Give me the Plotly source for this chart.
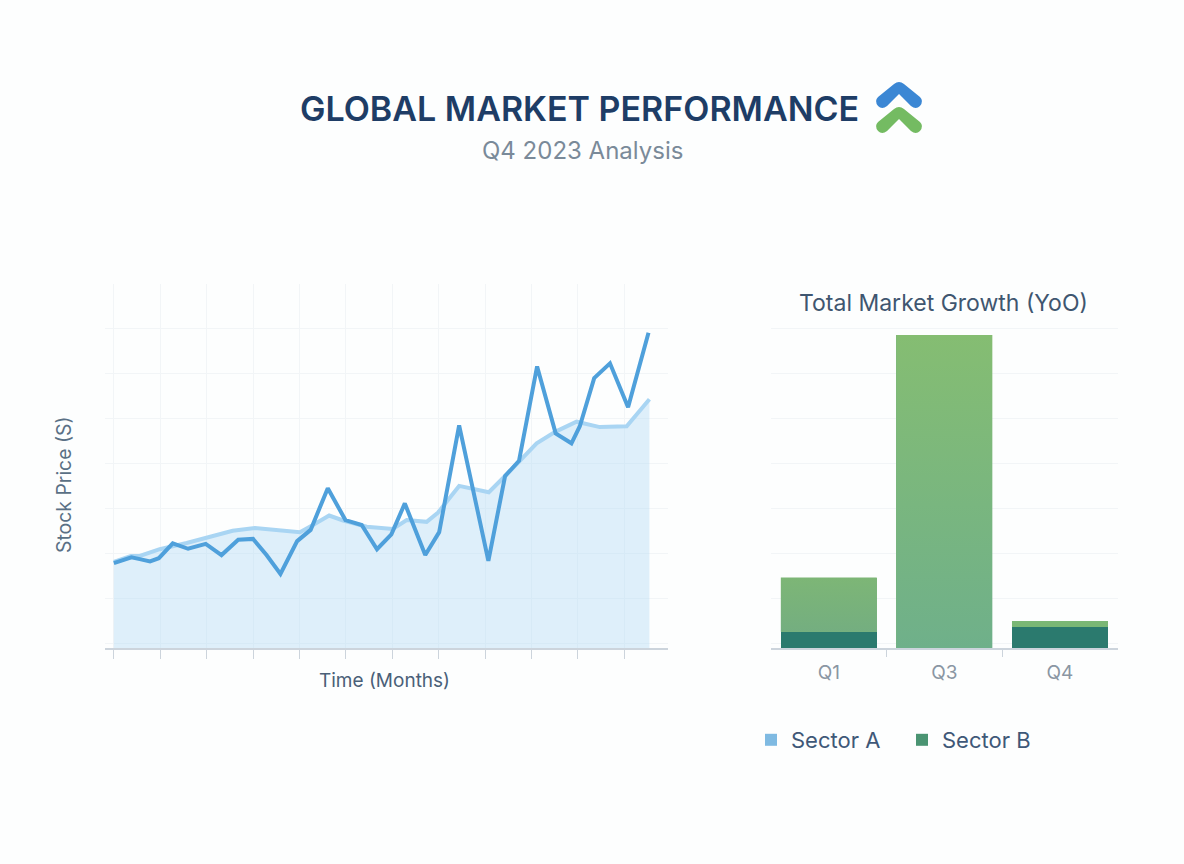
import plotly.graph_objects as go

# months since start / stock price
price_x = [0.00, 0.38, 0.56, 0.78, 0.97, 1.27, 1.60, 1.98, 2.32, 2.68, 3.00, 3.29, 3.59, 3.95, 4.24, 4.61, 4.99, 5.34,
           5.67, 5.98, 6.27, 6.71, 7.01, 7.44, 8.07, 8.43, 8.73, 9.12, 9.52, 9.86, 10.04, 10.35, 10.69, 11.08, 11.52]
price_y = [18.9, 20.2, 19.8, 19.3, 20.0, 23.3, 22.1, 23.2, 20.7, 24.1, 24.3, 20.7, 16.5, 23.8, 26.3, 35.6, 28.5, 27.4,
           22.0, 25.3, 32.2, 20.7, 25.8, 49.6, 19.4, 38.3, 41.7, 62.7, 47.8, 45.6, 49.4, 60.1, 63.4, 53.6, 70.2]
trend_x = [0.00, 0.37, 0.56, 0.99, 1.57, 2.00, 2.56, 3.04, 3.51, 4.01, 4.29, 4.64, 4.94, 5.45, 6.01, 6.31, 6.74, 6.98,
           7.44, 8.08, 8.43, 8.73, 9.11, 9.52, 9.97, 10.47, 11.05, 11.54]
trend_y = [19.2, 20.5, 20.5, 22.0, 23.4, 24.5, 26.1, 26.7, 26.3, 25.8, 27.4, 29.5, 28.4, 27.0, 26.5, 28.5, 28.1, 30.1,
           36.1, 34.7, 38.3, 41.5, 45.6, 48.2, 50.4, 49.2, 49.4, 55.4]
month_ticks = [0, 1, 2, 3, 4, 5, 6, 7, 8, 9, 10, 11]
grid_levels = [1.1, 11.1, 21.1, 31.1, 41.1, 51.1, 61.1, 71.1, 81.0]

quarters = ["Q1", "Q3", "Q4"]
sector_b = [3.6, 0, 4.7]
sector_a = [12.1, 69.7, 1.3]

W, H = 1184, 864
BG = "#fdfefe"
GRID = "#f2f5f7"
AXIS = "#ccd4dc"
# colour at the foot and at the top of the light part of each bar
BAR_FOOT = ["#74ae80", "#6fb08a", "#7ab775"]
BAR_TOP = ["#7db676", "#85bd72", "#7ab775"]


def px(x):
    return x / W


def py(y):
    return 1 - y / H


def chevron(t, color):
    # little arrow next to the title, pixel positions converted to paper
    def p(a, b):
        return f"{px(a):.4f},{py(t + b):.4f}"

    path = (f"M {p(894, 2)} Q {p(899, -2)} {p(904, 2)} L {p(920, 15)} Q {p(924, 19)} {p(920, 24)} "
            f"Q {p(916, 28)} {p(911, 24)} L {p(899, 12)} L {p(887, 24)} Q {p(882, 28)} {p(878, 24)} "
            f"Q {p(874, 19)} {p(878, 15)} Z")
    return dict(type="path", xref="paper", yref="paper", path=path, fillcolor=color, line=dict(width=0))


def label(text, x, y, size, color, angle=0, weight=None):
    return dict(text=text, xref="paper", yref="paper", x=px(x), y=py(y), xanchor="center", yanchor="middle",
                showarrow=False, textangle=angle, font=dict(size=size, color=color, weight=weight))


fig = go.Figure()

fig.add_trace(go.Scatter(x=trend_x, y=trend_y, mode="lines", fill="tozeroy", fillcolor="rgba(172,217,245,0.39)",
                         line=dict(color="#a9d5f3", width=4), showlegend=False))
fig.add_trace(go.Scatter(x=price_x, y=price_y, mode="lines", line=dict(color="#4fa0db", width=4), showlegend=False))

fig.add_trace(go.Bar(x=[0, 1, 2], y=sector_b, marker=dict(color="#2b7a6e", line=dict(width=0)), width=0.83,
                     xaxis="x2", yaxis="y2", showlegend=False))
fig.add_trace(go.Bar(x=[0, 1, 2], y=sector_a, marker=dict(color="#7ab67d", line=dict(width=0)), width=0.83,
                     xaxis="x2", yaxis="y2", showlegend=False))

# bars have no gradient option, so lay a gradient fill over the light part
for i in range(len(quarters)):
    low, high = sector_b[i], sector_b[i] + sector_a[i]
    fig.add_trace(go.Scatter(x=[i - 0.415, i + 0.415, i + 0.415, i - 0.415, i - 0.415], y=[low, low, high, high, low],
                             mode="none", fill="toself",
                             fillgradient=dict(type="vertical", colorscale=[[0, BAR_FOOT[i]], [1, BAR_TOP[i]]]),
                             xaxis="x2", yaxis="y2", showlegend=False, hoverinfo="skip"))

fig.add_trace(go.Scatter(x=[None], y=[None], mode="markers", name="Sector A", xaxis="x2", yaxis="y2",
                         marker=dict(symbol="square", size=12, color="#7fbae2")))
fig.add_trace(go.Scatter(x=[None], y=[None], mode="markers", name="Sector B", xaxis="x2", yaxis="y2",
                         marker=dict(symbol="square", size=12, color="#4a9472")))

fig.update_layout(
    width=W, height=H, margin=dict(l=0, r=0, t=0, b=0), paper_bgcolor=BG, plot_bgcolor=BG,
    font=dict(family="Inter", color="#4a6078"), barmode="stack",
    xaxis=dict(domain=[px(105), px(668)], range=[-0.19, 11.94], tickmode="array", tickvals=month_ticks,
               showticklabels=False, ticks="outside", ticklen=9, tickcolor=AXIS, showgrid=True, gridcolor=GRID,
               showline=True, linecolor=AXIS, linewidth=1.5, zeroline=False),
    yaxis=dict(domain=[py(648), py(284)], range=[0, 81.07], tickmode="array", tickvals=grid_levels,
               showticklabels=False, showgrid=True, gridcolor=GRID, zeroline=False),
    xaxis2=dict(domain=[px(771), px(1117.75)], range=[-0.5, 2.5], anchor="y2", tickmode="array", tickvals=[0, 1, 2],
                ticktext=quarters, tickfont=dict(size=19, color="#8a96a3"), ticklen=0, ticklabelstandoff=6,
                showgrid=False, showline=True, linecolor=AXIS, linewidth=1.5, zeroline=False,
                minor=dict(tickmode="array", tickvals=[0.5, 1.5], ticks="outside", ticklen=7, tickcolor=AXIS,
                           showgrid=False)),
    yaxis2=dict(domain=[py(648), py(327)], range=[0, 71.5], anchor="x2", tickmode="array", tickvals=grid_levels[:8],
                showticklabels=False, showgrid=True, gridcolor=GRID, zeroline=False),
    legend=dict(orientation="h", traceorder="normal", x=px(751), y=py(740), xanchor="left", yanchor="middle",
                font=dict(size=22, color="#3f5878"), itemwidth=30, entrywidth=106, bgcolor="rgba(0,0,0,0)"),
    annotations=[
        label("GLOBAL MARKET PERFORMANCE", 579, 108, 34, "#1e3d66", weight=600),
        label("Q4 2023 Analysis", 582, 150, 24, "#7a8a99"),
        label("Total Market Growth (YoO)", 943, 303, 23, "#3f5670"),
        label("Time (Months)", 384, 680, 19, "#4a6078"),
        label("Stock Price (S)", 64, 485, 19.4, "#5a7085", angle=-90),
    ],
    shapes=[chevron(82, "#3b87d4"), chevron(107, "#74bb62")],
)

fig.write_html("out.html", config=dict(displayModeBar=False), post_script="document.body.style.margin='0';")
